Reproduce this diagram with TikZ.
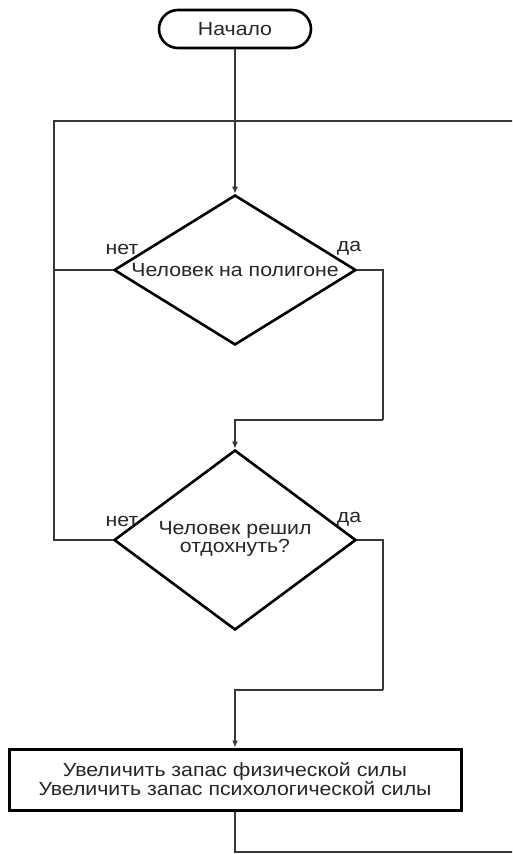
\documentclass[tikz,border=0pt]{standalone}
\usepackage{fontspec}
\setmainfont[FakeStretch=1.12]{Liberation Sans}
\usetikzlibrary{shapes.geometric,arrows.meta}
\begin{document}
\begin{tikzpicture}[x=1pt,y=-1pt,
  every node/.style={font=\fontsize{19pt}{18pt}\selectfont, text=black!85},
  terminal/.style={draw=black, line width=2.6pt, rectangle, rounded corners=19pt,
    minimum width=152pt, minimum height=38pt, inner sep=0pt},
  decision/.style={draw=black, line width=2.6pt, diamond, inner sep=0pt,
    minimum width=242pt},
  process/.style={draw=black, line width=3pt, rectangle, minimum width=452pt,
    minimum height=61pt, inner sep=0pt, align=center},
  flow/.style={draw=black!78, line width=2.5pt},
  arr/.style={flow, -{Latex[length=7pt,width=6pt]}},
  lbl/.style={inner sep=0pt}]
\clip (0,0) rectangle (512,854);
\fill[white] (0,0) rectangle (512,854);

% blocks
\node[terminal] (start) at (235,29) {Начало};
\node[decision, minimum height=150pt] (d1) at (235,270) {};
\node[lbl] (d1t) at (235,270) {Человек на полигоне};
\node[decision, minimum height=180pt] (d2) at (235,540) {};
\node[lbl, align=center] (d2t) at (235,539) {Человек решил\\отдохнуть?};
\node[process] (act) at (235,779.5) {Увеличить запас физической силы\\Увеличить запас психологической силы};

% branch labels
\node[lbl] (n1) at (122,249) {нет};
\node[lbl] (y1) at (349,248) {да};
\node[lbl] (n2) at (122,521) {нет};
\node[lbl] (y2) at (349,519) {да};

% junction points
\coordinate (top) at (235,121);
\coordinate (lft) at (54,121);
\coordinate (r1) at (383,420);
\coordinate (r2) at (383,690);
\coordinate (bot) at (525,852);

% connectors
\draw[flow] (start.south) -- (top);
\draw[arr] (top) -- (d1.north);
\draw[flow] (d1.west) -| (lft) -- (top);
\draw[flow] (d2.west) -| (lft);
\draw[flow] (d1.east) -| (r1);
\draw[arr] (r1) -| (d2.north);
\draw[flow] (d2.east) -| (r2);
\draw[arr] (r2) -| (act.north);
\draw[flow] (act.south) |- (bot) |- (top);
\end{tikzpicture}
\end{document}
